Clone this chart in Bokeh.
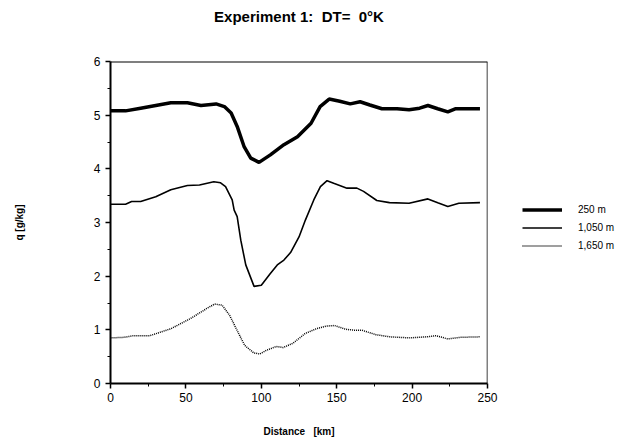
from bokeh.plotting import figure
from bokeh.models import Range1d, Legend, LegendItem, FixedTicker, Span, Title
from bokeh.embed import file_html
from bokeh.resources import INLINE

NB = "\u00a0"
title_text = "Experiment 1:" + NB * 2 + "DT=" + NB * 2 + "0\u00b0K"
x_label = "Distance" + NB * 3 + "[km]"
y_label = "q [g/kg]"

x250 = [0, 10, 20, 30, 40, 51, 60, 70, 75.5, 80, 84, 88.5, 93, 98.5, 106, 115, 124, 133, 139,
        145, 152, 159, 165.5, 172, 180, 190, 198, 205, 210.5, 217, 223.7, 229, 237, 245]
y250 = [5.08, 5.08, 5.13, 5.18, 5.23, 5.23, 5.18, 5.21, 5.16, 5.04, 4.79, 4.42, 4.20, 4.12, 4.26,
        4.45, 4.60, 4.85, 5.16, 5.30, 5.26, 5.21, 5.25, 5.19, 5.12, 5.12, 5.10, 5.13, 5.18, 5.12,
        5.06, 5.12, 5.12, 5.12]

x1050 = [0, 10, 14, 20, 30, 40, 51, 59, 68.5, 73, 76.3, 80.7, 82, 84, 86.4, 89.7, 95.2, 100, 106,
         110.6, 115, 119.4, 125, 129.3, 134.8, 139.2, 143.6, 148, 156.8, 163.4, 167.8, 176.6, 185,
         198, 210.5, 217, 223.7, 231, 245]
y1050 = [3.34, 3.34, 3.39, 3.39, 3.48, 3.61, 3.69, 3.70, 3.76, 3.74, 3.67, 3.42, 3.23, 3.11, 2.67,
         2.21, 1.81, 1.83, 2.05, 2.21, 2.30, 2.44, 2.73, 3.05, 3.42, 3.67, 3.78, 3.73, 3.64, 3.64,
         3.58, 3.41, 3.37, 3.36, 3.44, 3.37, 3.30, 3.36, 3.37]

x1650 = [0, 9, 15, 26, 40, 53, 64, 69, 74, 79, 85, 89, 95, 99, 103.5, 110, 114.5, 121, 129, 136.5,
         143, 148.6, 156, 163, 167, 176, 185, 198, 210, 216, 223.7, 232, 245]
y1650 = [0.85, 0.86, 0.89, 0.89, 1.02, 1.21, 1.40, 1.48, 1.46, 1.27, 0.93, 0.71, 0.57, 0.55, 0.62,
         0.69, 0.67, 0.75, 0.93, 1.02, 1.07, 1.08, 1.01, 0.99, 0.99, 0.91, 0.87, 0.85, 0.87, 0.89,
         0.83, 0.86, 0.87]

labels = ["250 m", "1,050 m", "1,650 m"]
x_ticks = [0, 50, 100, 150, 200, 250]
y_ticks = [0, 1, 2, 3, 4, 5, 6]

p = figure(frame_width=377, frame_height=322, output_backend="svg", toolbar_location=None,
           x_range=Range1d(0, 250), y_range=Range1d(0, 6),
           min_border_left=110, min_border_right=133, min_border_top=61, min_border_bottom=57)

# spacer between frame and title (keeps the title high above the frame)
p.add_layout(Title(text=NB, text_font_size="10px", standoff=22), "above")

p.title.text = title_text
p.title.align = "center"
p.title.vertical_align = "bottom"
p.title.text_font = "Liberation Sans"
p.title.text_font_size = "15px"
p.title.text_font_style = "bold"
p.title.text_color = "black"
p.title.standoff = 4

r1 = p.line(x250, y250, line_color="black", line_width=3.5)
r2 = p.line(x1050, y1050, line_color="black", line_width=1.6)
r3 = p.line(x1650, y1650, line_color="black", line_width=1.5, line_dash="1 1")

p.xgrid.visible = False
p.ygrid.visible = False
p.outline_line_color = None
p.background_fill_color = "white"
p.border_fill_color = "white"

# frame lines on top and right
p.add_layout(Span(location=p.y_range.end, dimension="width", line_color="black", line_width=1.8))
p.add_layout(Span(location=p.x_range.end, dimension="height", line_color="black", line_width=1.5))

p.xaxis.ticker = FixedTicker(ticks=x_ticks, minor_ticks=[25, 75, 125, 175, 225])
p.yaxis.ticker = FixedTicker(ticks=y_ticks, minor_ticks=[0.5, 1.5, 2.5, 3.5, 4.5, 5.5])

for ax in (p.xaxis[0], p.yaxis[0]):
    ax.axis_line_width = 2
    ax.axis_line_color = "black"
    ax.major_tick_line_color = "black"
    ax.minor_tick_line_color = "black"
    ax.major_tick_line_width = 1.5
    ax.major_tick_out = 5
    ax.major_tick_in = 0
    ax.minor_tick_out = 3
    ax.minor_tick_in = 0
    ax.major_label_text_font = "Liberation Sans"
    ax.major_label_text_font_size = "12px"
    ax.major_label_text_color = "black"
    ax.axis_label_text_font = "Liberation Sans"
    ax.axis_label_text_font_size = "10px"
    ax.axis_label_text_font_style = "bold"
    ax.axis_label_text_color = "black"

p.xaxis.axis_label = x_label
p.yaxis.axis_label = y_label
p.xaxis.major_label_standoff = 4
p.xaxis.axis_label_standoff = 21
p.yaxis.major_label_standoff = 5
p.yaxis.axis_label_standoff = 66

legend = Legend(items=[LegendItem(label=labels[0], renderers=[r1]),
                       LegendItem(label=labels[1], renderers=[r2]),
                       LegendItem(label=labels[2], renderers=[r3])],
                location=(35, 130), glyph_width=40, glyph_height=15, spacing=3,
                label_standoff=16, label_text_font="Liberation Sans", label_text_font_size="10px",
                label_text_color="black",
                border_line_alpha=0, background_fill_alpha=0, padding=0, margin=0)
p.add_layout(legend, "right")

open("out.html", "w").write(file_html(p, INLINE))
